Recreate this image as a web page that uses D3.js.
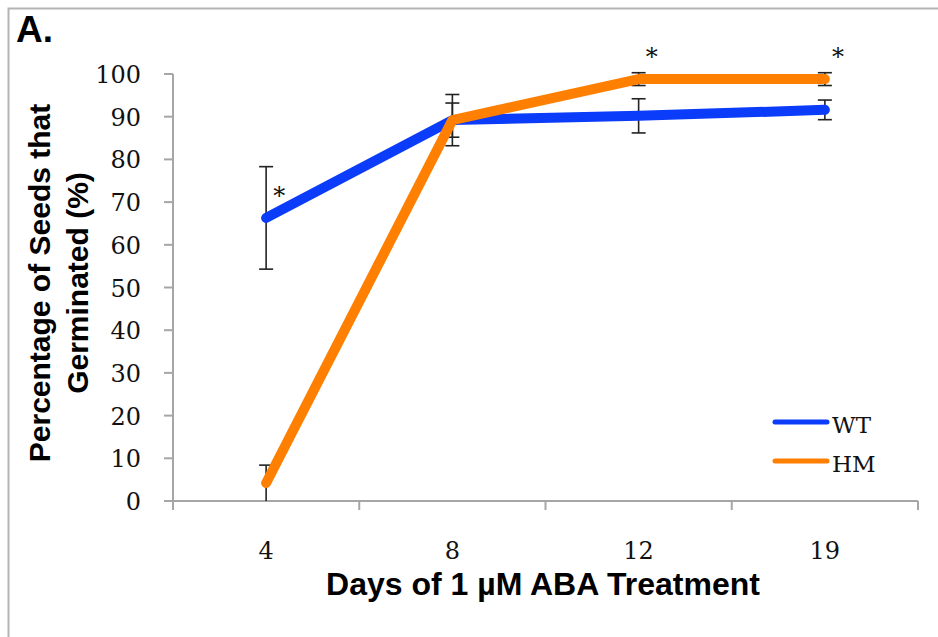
<!DOCTYPE html>
<html><head><meta charset="utf-8">
<script src="https://cdn.jsdelivr.net/npm/d3@7"></script>
<style>body{margin:0;background:#fff}</style>
</head><body>
<script>
const categories = ["4", "8", "12", "19"];
const wtValues = [66.3, 89.2, 90.2, 91.6];
const wtErrors = [12.0, 6.0, 4.0, 2.3];
const hmValues = [4.2, 89.2, 98.8, 98.8];
const hmErrors = [4.2, 4.0, 1.5, 1.5];
const significant = ["4", "12", "19"];
const yTicks = [0, 10, 20, 30, 40, 50, 60, 70, 80, 90, 100];
const seriesNames = ["WT", "HM"];
const seriesColors = ["#0b3cfa", "#ff7f00"];

const W = 938, H = 637;
const svg = d3.select("body").append("svg").attr("width", W).attr("height", H);

// frame
svg.append("path").attr("d", `M8.5,${H} L8.5,8.5 L${W},8.5`)
  .attr("fill", "none").attr("stroke", "#b4b4b4").attr("stroke-width", 2);

const sans = "'Liberation Sans', Arial, sans-serif";
const serif = "'DejaVu Serif', serif";

svg.append("text").attr("x", 16).attr("y", 42).text("A.")
  .attr("font-family", sans).attr("font-weight", "bold").attr("font-size", 37);

const m = {left: 173, right: 918, top: 74, bottom: 501};
const x = d3.scaleBand().domain(categories).range([m.left, m.right]);
const y = d3.scaleLinear().domain([0, 100]).range([m.bottom, m.top]);
const cx = d => x(d) + x.bandwidth() / 2;

const axisColor = "#a6a6a6";

// y axis
const ya = svg.append("g");
ya.append("line").attr("x1", m.left).attr("x2", m.left).attr("y1", y(100)).attr("y2", y(0))
  .attr("stroke", axisColor).attr("stroke-width", 2);
yTicks.forEach(t => {
  ya.append("line").attr("x1", m.left - 9).attr("x2", m.left).attr("y1", y(t)).attr("y2", y(t))
    .attr("stroke", axisColor).attr("stroke-width", 2);
  ya.append("text").attr("x", 141).attr("y", y(t) + 9).attr("text-anchor", "end")
    .attr("font-family", serif).attr("font-size", 24).attr("fill", "#111").text(t);
});

// x axis
const xa = svg.append("g");
xa.append("line").attr("x1", m.left).attr("x2", m.right).attr("y1", y(0)).attr("y2", y(0))
  .attr("stroke", axisColor).attr("stroke-width", 2);
const edges = categories.map(c => x(c)).concat([x(categories[categories.length - 1]) + x.bandwidth()]);
edges.forEach(e => {
  xa.append("line").attr("x1", e).attr("x2", e).attr("y1", y(0)).attr("y2", y(0) + 9)
    .attr("stroke", axisColor).attr("stroke-width", 2);
});
categories.forEach(c => {
  xa.append("text").attr("x", cx(c)).attr("y", 559).attr("text-anchor", "middle")
    .attr("font-family", serif).attr("font-size", 24).attr("fill", "#111").text(c);
});

// axis titles
svg.append("text").attr("x", 543).attr("y", 595).attr("text-anchor", "middle")
  .attr("font-family", sans).attr("font-weight", "bold").attr("font-size", 32).text("Days of 1 µM ABA Treatment");
const yt = svg.append("text").attr("transform", "translate(0,283) rotate(-90)")
  .attr("text-anchor", "middle").attr("font-family", sans).attr("font-weight", "bold").attr("font-size", 30);
yt.append("tspan").attr("x", 0).attr("y", 50).text("Percentage of Seeds that");
yt.append("tspan").attr("x", 0).attr("y", 88).text("Germinated (%)");

// error bars
const series = [
  {name: seriesNames[0], vals: wtValues, errs: wtErrors, color: seriesColors[0]},
  {name: seriesNames[1], vals: hmValues, errs: hmErrors, color: seriesColors[1]}
];
const eb = svg.append("g").attr("stroke", "#222").attr("stroke-width", 1.6);
series.forEach(s => {
  categories.forEach((c, i) => {
    const lo = Math.max(0, s.vals[i] - s.errs[i]), hi = s.vals[i] + s.errs[i];
    const px = cx(c);
    eb.append("line").attr("x1", px).attr("x2", px).attr("y1", y(lo)).attr("y2", y(hi));
    eb.append("line").attr("x1", px - 7).attr("x2", px + 7).attr("y1", y(hi)).attr("y2", y(hi));
    if (lo > 0) eb.append("line").attr("x1", px - 7).attr("x2", px + 7).attr("y1", y(lo)).attr("y2", y(lo));
  });
});

// lines
const line = d3.line().x(d => cx(d.c)).y(d => y(d.v));
series.forEach(s => {
  svg.append("path").datum(categories.map((c, i) => ({c, v: s.vals[i]})))
    .attr("d", line).attr("fill", "none").attr("stroke", s.color)
    .attr("stroke-width", 10).attr("stroke-linecap", "round").attr("stroke-linejoin", "round");
});

// significance asterisks
significant.forEach(c => {
  const i = categories.indexOf(c);
  const top = Math.max(wtValues[i], hmValues[i]);
  svg.append("text").attr("x", cx(c) + 13).attr("y", y(top) - 28 + 14).attr("text-anchor", "middle")
    .attr("font-family", serif).attr("font-size", 24).attr("fill", "#111").text("*");
});

// legend
series.forEach((s, i) => {
  const ly = 422 + i * 39;
  svg.append("line").attr("x1", 775).attr("x2", 827).attr("y1", ly).attr("y2", ly)
    .attr("stroke", s.color).attr("stroke-width", 5).attr("stroke-linecap", "round");
  svg.append("text").attr("x", 832).attr("y", ly + 11)
    .attr("font-family", serif).attr("font-size", 23).attr("fill", "#111").text(s.name);
});
</script>
</body></html>
